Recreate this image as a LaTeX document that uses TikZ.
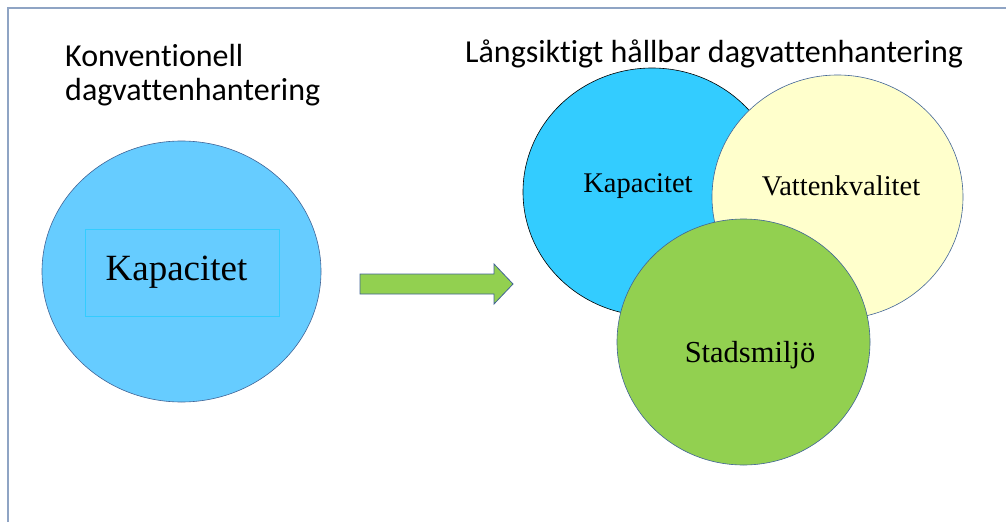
\documentclass[tikz,border=0pt]{standalone}
\usepackage{fontspec}
\setmainfont{Liberation Serif}
\newfontfamily\titlefont[Ligatures=NoCommon]{Carlito}
\usetikzlibrary{shapes.geometric}
\definecolor{framegray}{RGB}{143,164,196}
\definecolor{lightblue}{RGB}{102,204,255}
\definecolor{skyblue}{RGB}{51,204,255}
\definecolor{paleyellow}{RGB}{255,255,204}
\definecolor{leafgreen}{RGB}{146,208,80}
\definecolor{edgeblue}{RGB}{65,100,150}

\begin{document}
\begin{tikzpicture}[x=1pt,y=-1pt,
        blob/.style={ellipse,draw=edgeblue,line width=0.6pt,inner sep=0pt,
            minimum width=254pt,minimum height=246pt},
        heading/.style={font=\titlefont\fontsize{32}{34}\selectfont,inner sep=0pt,align=left},
        word/.style={font=\fontsize{28.5}{32}\selectfont,inner sep=0pt,anchor=base}]
        \useasboundingbox (0,0) rectangle (1006,522);
        \draw[framegray,line width=1.5pt] (8,522) -- (8,8) -- (1006,8);
        % left side
        \node[heading,anchor=base west] (konvtitle) at (65,100) {Konventionell\\dagvattenhantering};
        \node[blob,fill=lightblue,minimum width=279pt,minimum height=261pt] (konv) at (181.5,271.5) {};
        \node[draw=skyblue,line width=0.6pt,minimum width=194pt,minimum height=87pt] (konvbox) at (182,272.5) {};
        \node[word,font=\fontsize{37}{42}\selectfont] (konvtxt) at (176.5,280) {Kapacitet};
        % arrow
        \draw[edgeblue,fill=leafgreen,line width=0.8pt] (360,274) -- (494,274) -- (494,264) -- (513,284)
            -- (494,304) -- (494,294) -- (360,294) -- cycle;
        % right side
        \node[heading,anchor=base west] (hallbartitle) at (465,62) {Långsiktigt hållbar dagvattenhantering};
        \node[blob,draw=black,fill=skyblue,minimum width=258pt,minimum height=248pt] (kap) at (652,192) {};
        \node[blob,fill=paleyellow,minimum width=251pt,minimum height=244pt] (vatten) at (837.5,197) {};
        \node[blob,fill=leafgreen,minimum width=253pt,minimum height=246pt] (stad) at (743.5,342) {};
        \node[word] (kaptxt) at (638,192) {Kapacitet};
        \node[word] (vattentxt) at (841,195) {Vattenkvalitet};
        \node[word,font=\fontsize{30.5}{34}\selectfont] (stadtxt) at (750,362) {Stadsmiljö};
\end{tikzpicture}
\end{document}
